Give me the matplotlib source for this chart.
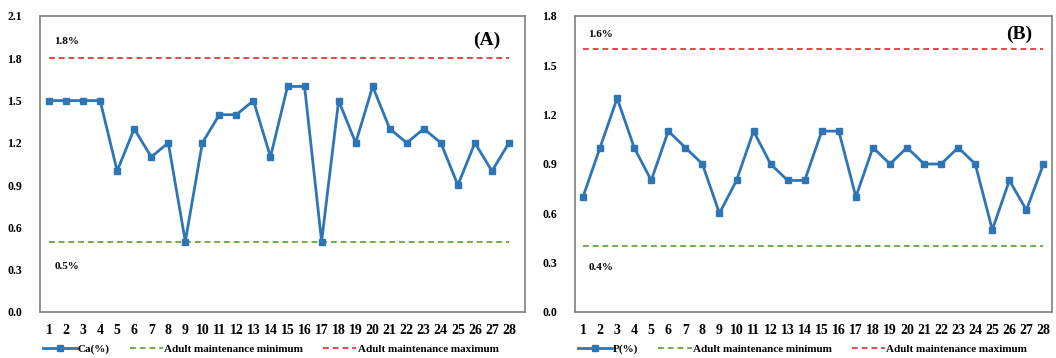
import matplotlib.pyplot as plt
import numpy as np

# sample numbers on the x axis
samples = list(range(1, 29))

# panel A: calcium content (%)
ca_values = [1.5, 1.5, 1.5, 1.5, 1.0, 1.3, 1.1, 1.2, 0.5, 1.2, 1.4, 1.4, 1.5, 1.1,
             1.6, 1.6, 0.5, 1.5, 1.2, 1.6, 1.3, 1.2, 1.3, 1.2, 0.9, 1.2, 1.0, 1.2]
ca_min, ca_max = 0.5, 1.8

# panel B: phosphorus content (%)
p_values = [0.7, 1.0, 1.3, 1.0, 0.8, 1.1, 1.0, 0.9, 0.6, 0.8, 1.1, 0.9, 0.8, 0.8,
            1.1, 1.1, 0.7, 1.0, 0.9, 1.0, 0.9, 0.9, 1.0, 0.9, 0.5, 0.8, 0.62, 0.9]
p_min, p_max = 0.4, 1.6

BLUE = "#2E75B6"
GREEN = "#70AD47"
RED = "#E8474A"
SPINE = "#7F7F7F"

plt.rcParams['font.family'] = ['Liberation Serif', 'DejaVu Serif']
plt.rcParams['font.weight'] = 'bold'


def draw_panel(fig, rect, values, vmin, vmax, series_label, ymax, ylabels_pos,
               panel_tag, tag_pos, max_txt_y, min_txt_y, xlim):
    ax = fig.add_axes(rect)
    ax.plot(samples, values, color=BLUE, lw=2, marker='s', ms=4.5,
            label=series_label, zorder=3)
    ax.plot(samples, [vmin] * len(samples), color=GREEN, lw=1.4,
            ls=(0, (3, 2)), label="Adult maintenance minimum", zorder=2)
    ax.plot(samples, [vmax] * len(samples), color=RED, lw=1.4,
            ls=(0, (3, 2)), label="Adult maintenance maximum", zorder=2)

    ax.set_xlim(*xlim)
    ax.set_ylim(0, ymax)
    ax.set_yticks(ylabels_pos)
    ax.set_yticklabels([f"{v:.1f}" for v in ylabels_pos], fontsize=8.5, fontweight='bold')
    ax.set_xticks(samples)
    ax.set_xticklabels([str(s) for s in samples], fontsize=10, fontweight='bold')
    ax.tick_params(axis='both', length=0)
    ax.tick_params(axis='x', pad=9)
    ax.tick_params(axis='y', pad=13)
    for sp in ax.spines.values():
        sp.set_color(SPINE)
        sp.set_linewidth(1.2)

    ax.text(1.3, max_txt_y, f"{vmax:.1f}%", fontsize=8, fontweight='bold', va='center')
    ax.text(1.3, min_txt_y, f"{vmin:.1f}%", fontsize=8, fontweight='bold', va='center')
    ax.text(tag_pos[0], tag_pos[1], panel_tag, fontsize=14, fontweight='bold',
            ha='center', va='center')

    ax.legend(loc='center left', bbox_to_anchor=(rect[0] - 0.001, 0.025),
              bbox_transform=fig.transFigure, ncol=3, frameon=False,
              prop={'size': 8, 'weight': 'bold'}, handlelength=3.0,
              handletextpad=0.1, columnspacing=1.8, borderaxespad=0)
    return ax


fig = plt.figure(figsize=(10.56, 3.58), dpi=100)

draw_panel(fig, [40 / 1056, 1 - 312 / 358, 485 / 1056, 296 / 358],
           ca_values, ca_min, ca_max, "Ca(%)", 2.1,
           np.arange(0, 2.11, 0.3), "(A)", (26.7, 1.93), 1.92, 0.32, (0.47, 28.94))

draw_panel(fig, [575 / 1056, 1 - 312 / 358, 477 / 1056, 296 / 358],
           p_values, p_min, p_max, "P(%)", 1.8,
           np.arange(0, 1.81, 0.3), "(B)", (26.6, 1.69), 1.69, 0.27, (0.53, 28.5))

fig.savefig("out.png", dpi=100)
